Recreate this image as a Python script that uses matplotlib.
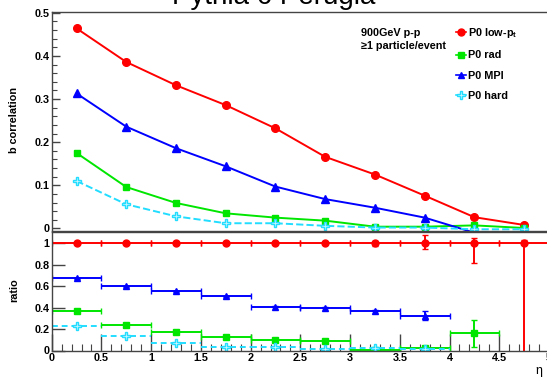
import matplotlib
matplotlib.use("Agg")
import matplotlib.pyplot as plt
from matplotlib.ticker import MultipleLocator, FuncFormatter, NullLocator
from matplotlib.lines import Line2D

plt.rcParams['font.family'] = ['Liberation Sans', 'DejaVu Sans']
plt.rcParams['mathtext.default'] = 'regular'

# eta bins (centres), half-width 0.25
eta = [0.25, 0.75, 1.25, 1.75, 2.25, 2.75, 3.25, 3.75, 4.25, 4.75]

# b correlation per tune variant
b_lowpt = [0.464, 0.386, 0.332, 0.286, 0.232, 0.166, 0.125, 0.076, 0.026, 0.008]
b_rad = [0.175, 0.096, 0.059, 0.035, 0.025, 0.018, 0.004, 0.004, 0.007, 0.001]
b_mpi = [0.313, 0.236, 0.186, 0.144, 0.097, 0.068, 0.048, 0.025, -0.01, -0.01]
b_hard = [0.110, 0.056, 0.028, 0.012, 0.012, 0.006, 0.002, 0.002, -0.002, -0.002]

# ratio to low-pt, with (lower, upper) errors
r_lowpt = [1, 1, 1, 1, 1, 1, 1, 1, 1, 1]
r_lowpt_lo = [0.005, 0.005, 0.005, 0.005, 0.005, 0.005, 0.02, 0.05, 0.185, 1.2]
r_lowpt_hi = [0.005, 0.005, 0.005, 0.005, 0.005, 0.005, 0.02, 0.08, 0.05, 0.03]
eta_mpi = eta[:8]
r_mpi = [0.674, 0.602, 0.555, 0.505, 0.408, 0.398, 0.373, 0.325]
r_mpi_err = [0.005, 0.005, 0.005, 0.005, 0.005, 0.005, 0.008, 0.04]
eta_rad = eta[:9]
r_rad = [0.373, 0.238, 0.176, 0.122, 0.094, 0.088, 0.006, 0.022, 0.16]
r_rad_err = [0.005, 0.005, 0.005, 0.005, 0.005, 0.005, 0.005, 0.012, 0.125]
eta_hard = eta[:8]
r_hard = [0.232, 0.132, 0.072, 0.031, 0.034, 0.013, 0.019, 0.013]
r_hard_err = [0.005, 0.005, 0.005, 0.005, 0.005, 0.005, 0.005, 0.005]

RED = '#ff0000'
GREEN = '#00e600'
BLUE = '#0000ff'
CYAN = '#22ddff'
HARD_FILL = '#ccf6ff'
FRAME = '#444444'
FS = 7.8

W, H = 547, 377
fig = plt.figure(figsize=(W / 100, H / 100), dpi=100)


def frac(x0, y0, x1, y1):
    return [x0 / W, 1 - y1 / H, (x1 - x0) / W, (y1 - y0) / H]


ax = fig.add_axes(frac(51.7, 12, 549, 231))
axr = fig.add_axes(frac(51.7, 232, 549, 350.5))

fmt = FuncFormatter(lambda v, p: '%g' % round(v, 3))

for a in (ax, axr):
    a.set_xlim(0, 5)
    for s in a.spines.values():
        s.set_color(FRAME)
        s.set_linewidth(1.0)
    a.tick_params(which='both', direction='in', top=False, right=False,
                  color=FRAME, labelsize=FS, pad=1.5)
    a.yaxis.set_major_formatter(fmt)

# upper panel
ax.set_ylim(-0.006, 0.502)
ax.yaxis.set_major_locator(MultipleLocator(0.1))
ax.yaxis.set_minor_locator(MultipleLocator(0.02))
ax.xaxis.set_major_locator(NullLocator())
ax.tick_params(which='major', length=6, width=1.0)
ax.tick_params(which='minor', length=3.6, width=0.8)

ax.plot(eta, b_lowpt, color=RED, lw=1.4, marker='o', ms=5.5)
ax.plot(eta, b_rad, color=GREEN, lw=1.4, marker='s', ms=5)
ax.plot(eta, b_mpi, color=BLUE, lw=1.4, marker='^', ms=5.5)
ax.plot(eta, b_hard, color=CYAN, lw=1.4, ls='--', marker='P', ms=6,
        mfc=HARD_FILL, mec=CYAN, mew=1.0)

# ratio panel
axr.set_ylim(0, 1.107)
axr.yaxis.set_major_locator(MultipleLocator(0.2))
axr.xaxis.set_major_locator(MultipleLocator(0.5))
axr.xaxis.set_minor_locator(MultipleLocator(0.1))
axr.xaxis.set_major_formatter(fmt)
axr.tick_params(axis='y', which='major', length=9.5, width=1.0)
axr.tick_params(axis='x', which='major', length=12, width=1.0)
axr.tick_params(axis='x', which='minor', length=5, width=0.8)

axr.errorbar(eta, r_lowpt, xerr=0.25, yerr=[r_lowpt_lo, r_lowpt_hi], fmt='o',
             color=RED, ms=5, elinewidth=1.4, capsize=2)
axr.errorbar(eta_mpi, r_mpi, xerr=0.25, yerr=r_mpi_err, fmt='^', color=BLUE,
             ms=5, elinewidth=1.4, capsize=2)
axr.errorbar(eta_rad, r_rad, xerr=0.25, yerr=r_rad_err, fmt='s', color=GREEN,
             ms=5, elinewidth=1.4, capsize=2)
eb = axr.errorbar(eta_hard, r_hard, xerr=0.25, yerr=r_hard_err, fmt='P',
                  color=CYAN, ms=6, mfc=HARD_FILL, mec=CYAN, mew=1.0,
                  elinewidth=1.4, capsize=0)
for coll in eb[2]:
    coll.set_linestyle((0, (3, 2)))

for a in (ax, axr):
    for lab in a.get_yticklabels() + a.get_xticklabels():
        lab.set_fontweight('bold')

# legend
handles = [
    Line2D([], [], color=RED, marker='o', ms=5, lw=1.2),
    Line2D([], [], color=GREEN, marker='s', ms=4.5, lw=1.2),
    Line2D([], [], color=BLUE, marker='^', ms=5, lw=1.2),
    Line2D([], [], color=CYAN, marker='P', ms=5.5, lw=1.2,
           mfc=HARD_FILL, mec=CYAN),
]
labels = ['P0 low-p$_t$', 'P0 rad', 'P0 MPI', 'P0 hard']
ax.legend(handles, labels, loc='upper left',
          bbox_to_anchor=(456 / W, 1 - 26 / H),
          bbox_transform=fig.transFigure, frameon=False,
          handlelength=0.9, handletextpad=0.2, labelspacing=0.95,
          borderpad=0, borderaxespad=0,
          prop={'size': FS, 'weight': 'bold'})

fig.text(361 / W, 1 - 33 / H, '900GeV p-p', fontsize=FS, fontweight='bold',
         va='center', ha='left')
fig.text(361 / W, 1 - 46 / H, '\u22651 particle/event', fontsize=FS,
         fontweight='bold', va='center', ha='left')

fig.text(14 / W, 1 - 120 / H, 'b correlation', rotation=90, fontsize=FS,
         fontweight='bold', va='center', ha='center')
fig.text(14 / W, 1 - 290 / H, 'ratio', rotation=90, fontsize=FS,
         fontweight='bold', va='center', ha='center')
fig.text(542 / W, 1 - 371 / H, '\u03b7', fontsize=9, va='center',
         ha='right')

# title sits mostly above the canvas edge
fig.text(0.5, 1 - 4 / H, 'Pythia 6 Perugia', fontsize=20, ha='center',
         va='baseline')

fig.savefig('out.png', dpi=100)
